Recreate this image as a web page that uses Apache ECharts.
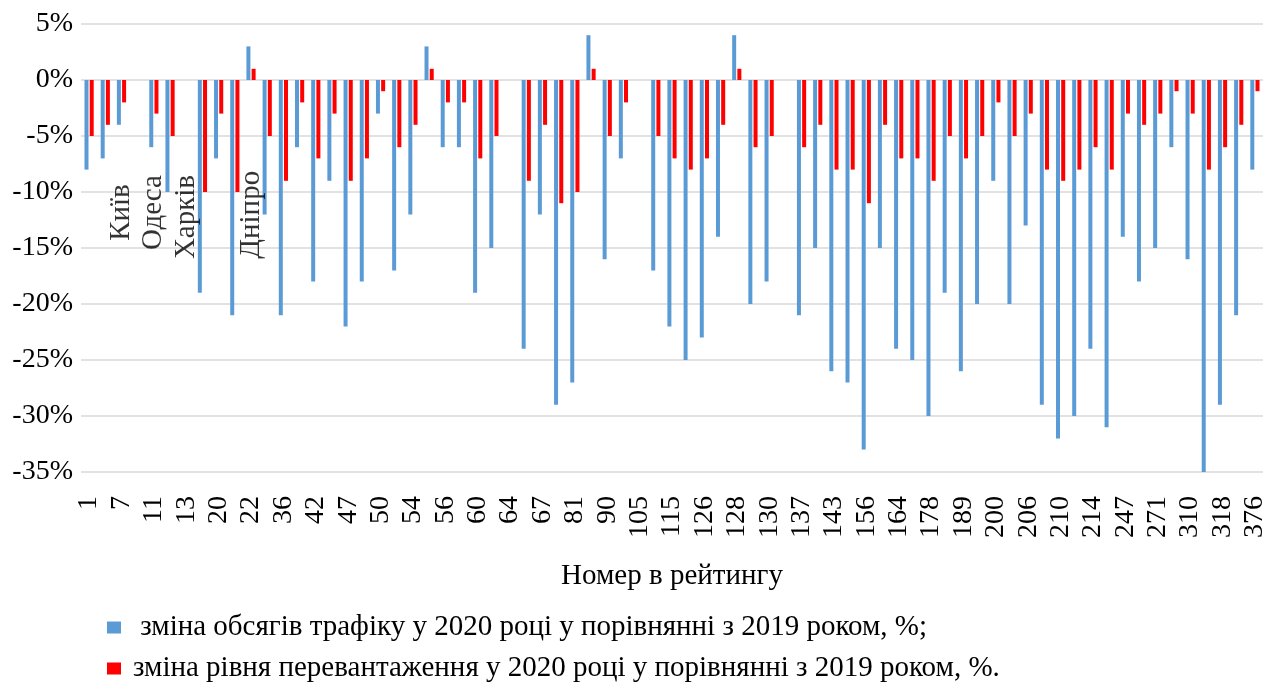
<!DOCTYPE html>
<html><head><meta charset="utf-8">
<script src="https://cdn.jsdelivr.net/npm/echarts@6/dist/echarts.min.js"></script>
<style>html,body{margin:0;padding:0;background:#fff}#c{width:1272px;height:686px}</style>
</head><body><div id="c"></div>
<script>
// Rank numbers (only every other category carries a visible tick label)
const categories = ['1','','7','','11','','13','','20','','22','','36','','42','','47','','50','','54','','56','','60','','64','','67','','81','','90','','105','','115','','126','','128','','130','','137','','143','','156','','164','','178','','189','','200','','206','','210','','214','','247','','271','','310','','318','','376'];

// зміна обсягів трафіку, %
const trafficChange = [-8,-7,-4,null,-6,-10,null,-19,-7,-21,3,-12,-21,-6,-18,-9,-22,-18,-3,-17,-12,3,-6,-6,-19,-15,null,-24,-12,-29,-27,4,-16,-7,null,-17,-22,-25,-23,-14,4,-20,-18,null,-21,-15,-26,-27,-33,-15,-24,-25,-30,-19,-26,-20,-9,-20,-13,-29,-32,-30,-24,-31,-14,-18,-15,-6,-16,-35,-29,-21,-8];

// зміна рівня перевантаження, %
const congestionChange = [-5,-4,-2,null,-3,-5,null,-10,-3,-10,1,-5,-9,-2,-7,-3,-9,-7,-1,-6,-4,1,-2,-2,-7,-5,null,-9,-4,-11,-10,1,-5,-2,null,-5,-7,-8,-7,-4,1,-6,-5,null,-6,-4,-8,-8,-11,-4,-7,-7,-9,-5,-7,-5,-2,-5,-3,-8,-9,-8,-6,-8,-3,-4,-3,-1,-3,-8,-6,-4,-1];

// y-axis ticks (%)
const yTicks = [5,0,-5,-10,-15,-20,-25,-30,-35];

// City annotations: [category index, value %, text]
const cityNotes = [[2,-11.3,'Київ'],[4,-11.3,'Одеса'],[6,-11.7,'Харків'],[10,-11.5,'Дніпро']];

const seriesNames = ['зміна обсягів трафіку у 2020 році у порівнянні з 2019 роком, %;',
                     'зміна рівня перевантаження у 2020 році у порівнянні з 2019 роком, %.'];

const FONT = 'Liberation Serif';
const chart = echarts.init(document.getElementById('c'), null, {renderer:'canvas'});
chart.setOption({
  animation:false,
  backgroundColor:'#fff',
  grid:{left:81,right:9,top:24,bottom:214,containLabel:false},
  xAxis:{
    type:'category', data:categories,
    name:'Номер в рейтингу', nameLocation:'middle', nameGap:90,
    nameTextStyle:{fontFamily:FONT,fontSize:29,color:'#000'},
    axisLine:{show:false}, axisTick:{show:false},
    axisLabel:{interval:1,rotate:90,fontFamily:FONT,fontSize:28,color:'#000',margin:24}
  },
  yAxis:{
    type:'value', min:yTicks[yTicks.length-1], max:yTicks[0], interval:5,
    axisLine:{show:false}, axisTick:{show:false},
    axisLabel:{fontFamily:FONT,fontSize:28,color:'#000',margin:8,formatter:v=>v+'%'},
    splitLine:{lineStyle:{color:'#d9d9d9',width:1.5}}
  },
  legend:{
    data:seriesNames, orient:'vertical', left:107, top:613, height:90, padding:0, itemGap:12,
    itemWidth:14, itemHeight:12, icon:'rect',
    formatter:n=>n===seriesNames[0]?' '+n:n,
    textStyle:{fontFamily:FONT,fontSize:29,lineHeight:28,color:'#000',padding:[0,0,0,7]}
  },
  series:[
    {name:seriesNames[0],type:'bar',data:trafficChange,barWidth:4,barGap:'30%',
     itemStyle:{color:'#5B9BD5'}},
    {name:seriesNames[1],type:'bar',data:congestionChange,barWidth:4,barGap:'30%',
     itemStyle:{color:'#FF0000'}},
    {name:'notes',type:'scatter',symbolSize:0,data:cityNotes,
     label:{show:true,position:'inside',rotate:90,offset:[-6,0],
       formatter:p=>p.data[2],fontFamily:FONT,fontSize:29,color:'#000'},
     silent:true,z:5}
  ]
});
</script></body></html>
